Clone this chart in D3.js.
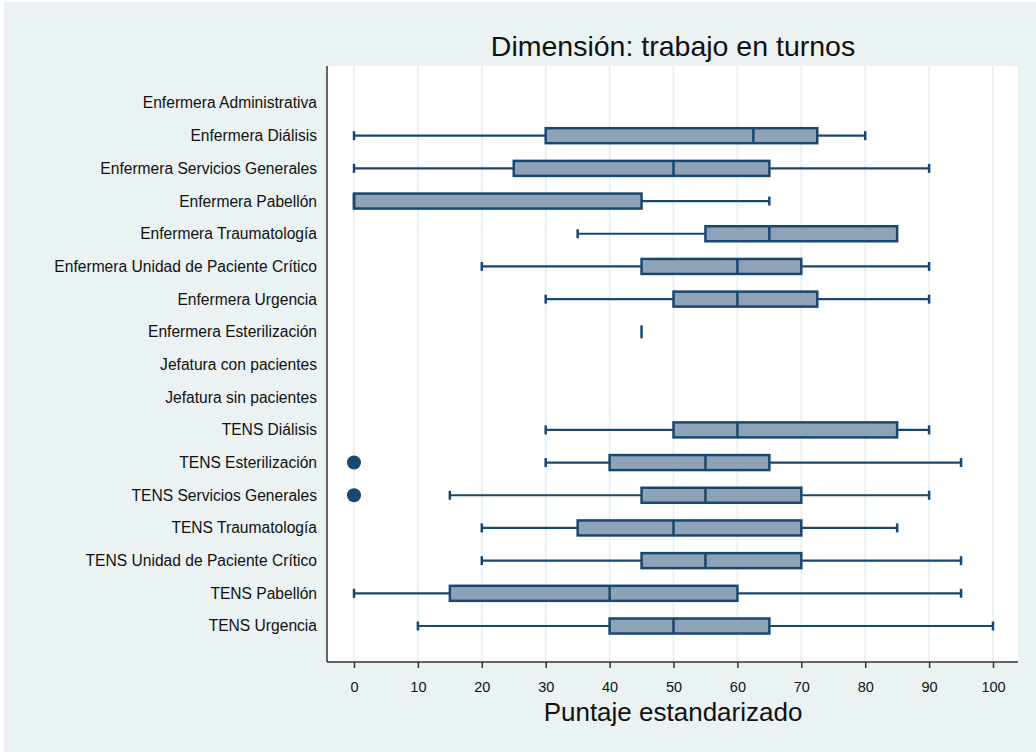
<!DOCTYPE html>
<html><head><meta charset="utf-8">
<script src="https://cdn.jsdelivr.net/npm/d3@7"></script>
<style>body{margin:0;background:#fff}svg{display:block}text{font-family:"Liberation Sans",Arial,sans-serif}</style>
</head><body><svg id="c" width="1036" height="752"></svg>
<script>
const categories = ["Enfermera Administrativa","Enfermera Diálisis","Enfermera Servicios Generales","Enfermera Pabellón","Enfermera Traumatología","Enfermera Unidad de Paciente Crítico","Enfermera Urgencia","Enfermera Esterilización","Jefatura con pacientes","Jefatura sin pacientes","TENS Diálisis","TENS Esterilización","TENS Servicios Generales","TENS Traumatología","TENS Unidad de Paciente Crítico","TENS Pabellón","TENS Urgencia"];
const whiskerLow  = [null,0,0,0,35,20,30,45,null,null,30,30,15,20,20,0,10];
const q1          = [null,30,25,0,55,45,50,45,null,null,50,40,45,35,45,15,40];
const median      = [null,62.5,50,0,65,60,60,45,null,null,60,55,55,50,55,40,50];
const q3          = [null,72.5,65,45,85,70,72.5,45,null,null,85,65,70,70,70,60,65];
const whiskerHigh = [null,80,90,65,85,90,90,45,null,null,90,95,90,85,95,95,100];
const outliers    = [[],[],[],[],[],[],[],[],[],[],[],[0],[0],[],[],[],[]];
const xTicks = [0,10,20,30,40,50,60,70,80,90,100];
const title = "Dimensión: trabajo en turnos";
const xTitle = "Puntaje estandarizado";

const svg = d3.select("#c");
const navy = "#1a476f", fill = "#8ea3b7", bg = "#eaf2f3";
svg.append("rect").attr("x",4).attr("y",2).attr("width",1032).attr("height",750).attr("fill",bg);
const L = 327, R = 1018, T = 66, B = 662;
svg.append("rect").attr("x",L).attr("y",T).attr("width",R-L).attr("height",B-T).attr("fill","#fff");
const x = d3.scaleLinear().domain([0,100]).range([354,993]);
const y = d3.scalePoint().domain(categories).range([103,626]);

// gridlines
svg.append("g").selectAll("line").data(xTicks).join("line")
  .attr("x1",d=>x(d)).attr("x2",d=>x(d)).attr("y1",T).attr("y2",B)
  .attr("stroke",bg).attr("stroke-width",2);

const rows = categories.map((c,i)=>({c,lo:whiskerLow[i],q1:q1[i],md:median[i],q3:q3[i],hi:whiskerHigh[i],out:outliers[i]})).filter(d=>d.md!==null);
const g = svg.append("g");
const bh = 15, cap = 9;
rows.forEach(d=>{
  const cy = y(d.c);
  const gg = g.append("g").attr("stroke",navy).attr("fill","none");
  if (d.lo < d.q1) gg.append("line").attr("x1",x(d.lo)).attr("x2",x(d.q1)).attr("y1",cy).attr("y2",cy).attr("stroke-width",2.2);
  if (d.hi > d.q3) gg.append("line").attr("x1",x(d.q3)).attr("x2",x(d.hi)).attr("y1",cy).attr("y2",cy).attr("stroke-width",2.2);
  if (d.q3 > d.q1) {
    gg.append("rect").attr("x",x(d.q1)).attr("y",cy-bh/2).attr("width",x(d.q3)-x(d.q1)).attr("height",bh).attr("fill",fill).attr("stroke-width",2.5);
    gg.append("line").attr("x1",x(d.md)).attr("x2",x(d.md)).attr("y1",cy-bh/2).attr("y2",cy+bh/2).attr("stroke-width",2.5);
  } else {
    gg.append("line").attr("x1",x(d.md)).attr("x2",x(d.md)).attr("y1",cy-bh/2+1).attr("y2",cy+bh/2-1).attr("stroke-width",2.5);
  }
  if (d.lo < d.q1) gg.append("line").attr("x1",x(d.lo)).attr("x2",x(d.lo)).attr("y1",cy-cap/2).attr("y2",cy+cap/2).attr("stroke-width",2.5);
  if (d.hi > d.q3) gg.append("line").attr("x1",x(d.hi)).attr("x2",x(d.hi)).attr("y1",cy-cap/2).attr("y2",cy+cap/2).attr("stroke-width",2.5);
  d.out.forEach(o=>{
    g.append("circle").attr("cx",x(o)).attr("cy",cy).attr("r",7).attr("fill",navy);
  });
});

// axes
svg.append("line").attr("x1",L).attr("x2",L).attr("y1",T).attr("y2",B).attr("stroke","#333").attr("stroke-width",1.5);
const xa = svg.append("g").attr("transform",`translate(0,${B})`)
  .call(d3.axisBottom(x).tickValues(xTicks).tickSize(6).tickPadding(14).tickSizeOuter(0));
xa.select(".domain").remove();
xa.selectAll(".tick line").attr("stroke","#333").attr("stroke-width",1.5);
xa.selectAll(".tick text").attr("font-size",14.5).attr("fill","#111").style("font-family","'Liberation Sans',Arial,sans-serif");
svg.append("line").attr("x1",L).attr("x2",R).attr("y1",B).attr("y2",B).attr("stroke","#333").attr("stroke-width",1.5);

// y labels
svg.append("g").selectAll("text").data(categories).join("text")
  .attr("x",317).attr("y",d=>y(d)).attr("dy","0.35em").attr("text-anchor","end")
  .attr("font-size",15.6).attr("fill","#111").text(d=>d);

svg.append("text").attr("x",673).attr("y",56).attr("text-anchor","middle").attr("font-size",28.5).attr("fill","#111").text(title);
svg.append("text").attr("x",673).attr("y",721).attr("text-anchor","middle").attr("font-size",26).attr("fill","#111").text(xTitle);
</script></body></html>
